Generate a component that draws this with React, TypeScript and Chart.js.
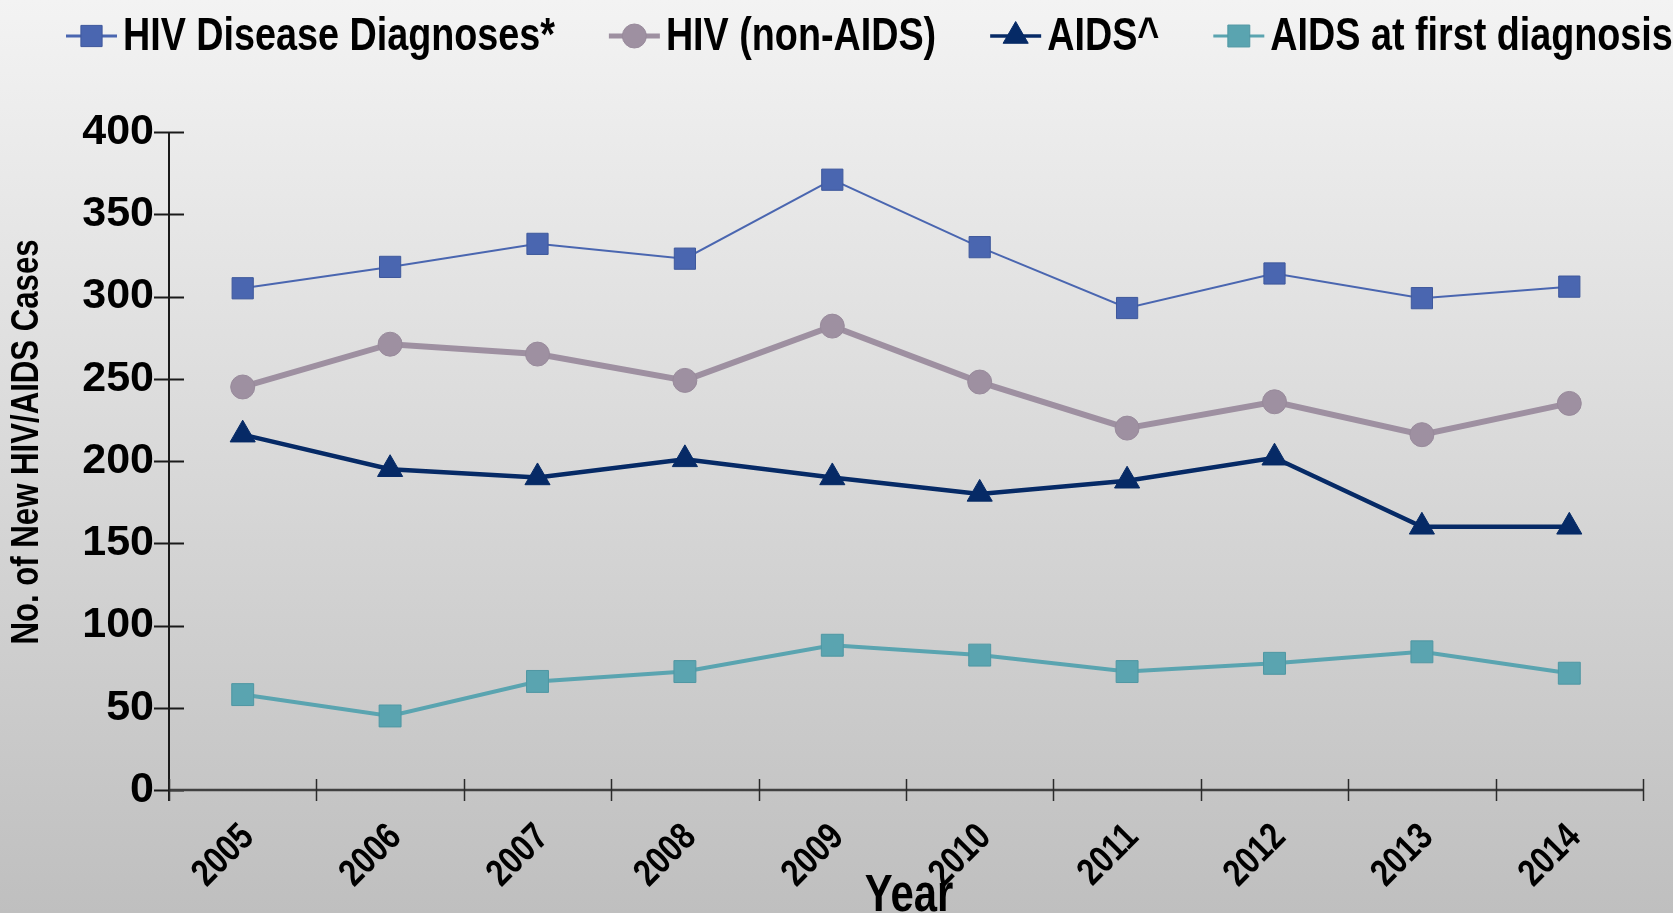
import { useEffect, useRef } from 'react';
import { Chart, registerables } from 'chart.js';
import { drawPoint } from 'chart.js/helpers';

Chart.register(...registerables);

const years = ['2005', '2006', '2007', '2008', '2009', '2010', '2011', '2012', '2013', '2014'];
const hivDisease = [305, 318, 332, 323, 371, 330, 293, 314, 299, 306];
const hivNonAids = [245, 271, 265, 249, 282, 248, 220, 236, 216, 235];
const aids = [216, 195, 190, 201, 190, 180, 188, 202, 160, 160];
const aidsFirst = [58, 45, 66, 72, 88, 82, 72, 77, 84, 71];
const seriesLabels = ['HIV Disease Diagnoses*', 'HIV (non-AIDS)', 'AIDS^', 'AIDS at first diagnosis'];
const xTitle = 'Year';
const yTitle = 'No. of New HIV/AIDS Cases';
const yMin = 0;
const yMax = 400;
const yStep = 50;

const FONT = '"Liberation Sans", Arial, sans-serif';
const NARROW_SCALE = 0.82;

// draws text horizontally condensed (Arial Narrow look) along its own direction
function narrowText(
  ctx: CanvasRenderingContext2D,
  text: string,
  x: number,
  y: number,
  angle: number,
  align: CanvasTextAlign,
  baseline: CanvasTextBaseline,
  font: string,
) {
  ctx.save();
  ctx.translate(x, y);
  ctx.rotate(angle);
  ctx.scale(NARROW_SCALE, 1);
  ctx.font = font;
  ctx.textAlign = align;
  ctx.textBaseline = baseline;
  ctx.fillStyle = '#000';
  ctx.fillText(text, 0, 0);
  ctx.restore();
}

const legendPlugin = {
  id: 'lineLegend',
  afterDraw(chart: any) {
    const ctx = chart.ctx as CanvasRenderingContext2D;
    const font = `bold 46px ${FONT}`;
    let x = 66;
    const y = 36;
    chart.data.datasets.forEach((ds: any) => {
      ctx.save();
      ctx.strokeStyle = ds.borderColor;
      ctx.lineWidth = Math.max(3, ds.borderWidth - 1);
      ctx.beginPath();
      ctx.moveTo(x, y);
      ctx.lineTo(x + 51, y);
      ctx.stroke();
      ctx.fillStyle = ds.pointBackgroundColor;
      ctx.strokeStyle = ds.pointBorderColor;
      ctx.lineWidth = 1;
      drawPoint(ctx, { pointStyle: ds.pointStyle, radius: ds.pointRadius, rotation: 0, borderWidth: 1 } as any, x + 25.5, y);
      ctx.restore();
      narrowText(ctx, ds.label, x + 57, y + 1, 0, 'left', 'middle', font);
      ctx.save();
      ctx.font = font;
      const w = ctx.measureText(ds.label).width * NARROW_SCALE;
      ctx.restore();
      x += 57 + w + 54;
    });
  },
};

const labelsPlugin = {
  id: 'narrowLabels',
  afterDraw(chart: any) {
    const ctx = chart.ctx as CanvasRenderingContext2D;
    const { chartArea } = chart;
    const xs = chart.scales.x;
    // rotated category labels
    xs.ticks.forEach((_t: any, i: number) => {
      const px = xs.getPixelForTick(i) - 8;
      narrowText(ctx, String(chart.data.labels[i]), px, chartArea.bottom + 28, -Math.PI / 4, 'right', 'top', `bold 38px ${FONT}`);
    });
    // x title
    narrowText(ctx, xTitle, (chartArea.left + chartArea.right) / 2 + 3, chart.height - 2, 0, 'center', 'alphabetic', `bold 51px ${FONT}`);
    // y title
    narrowText(ctx, yTitle, 28, (chartArea.top + chartArea.bottom) / 2 - 19, -Math.PI / 2, 'center', 'middle', `bold 38px ${FONT}`);
  },
};

const axesPlugin = {
  id: 'crossAxes',
  beforeDatasetsDraw(chart: any) {
    const { ctx, chartArea } = chart;
    const xs = chart.scales.x;
    const ys = chart.scales.y;
    ctx.save();
    ctx.strokeStyle = '#1a1a1a';
    ctx.lineWidth = 2;
    ctx.beginPath();
    ctx.moveTo(chartArea.left, ys.getPixelForValue(yMax));
    ctx.lineTo(chartArea.left, chartArea.bottom + 11);
    ctx.stroke();
    ys.ticks.forEach((t: any) => {
      const py = Math.round(ys.getPixelForValue(t.value)) + 0.5;
      ctx.beginPath();
      ctx.moveTo(chartArea.left - 15, py);
      ctx.lineTo(chartArea.left + 15, py);
      ctx.stroke();
    });
    ctx.strokeStyle = '#404040';
    ctx.lineWidth = 2.5;
    ctx.beginPath();
    ctx.moveTo(chartArea.left, chartArea.bottom);
    ctx.lineTo(chartArea.right, chartArea.bottom);
    ctx.stroke();
    const step = xs.getPixelForValue(1) - xs.getPixelForValue(0);
    ctx.strokeStyle = '#2a2a2a';
    ctx.lineWidth = 1.5;
    for (let i = 0; i <= years.length; i++) {
      const px = Math.round(xs.getPixelForValue(0) - step / 2 + i * step) + 0.5;
      ctx.beginPath();
      ctx.moveTo(px, chartArea.bottom - 11);
      ctx.lineTo(px, chartArea.bottom + 11);
      ctx.stroke();
    }
    ctx.restore();
  },
};

export default function App() {
  const ref = useRef<HTMLCanvasElement>(null);

  useEffect(() => {
    document.body.style.margin = '0';
    document.body.style.overflow = 'hidden';
    const chart = new Chart(ref.current as HTMLCanvasElement, {
      type: 'line',
      data: {
        labels: years,
        datasets: [
          {
            label: seriesLabels[0],
            data: hivDisease,
            borderColor: '#4a66b0',
            backgroundColor: '#4a66b0',
            pointBackgroundColor: '#4a66b0',
            pointBorderColor: '#3e589c',
            borderWidth: 2,
            pointStyle: 'rect',
            pointRadius: 15,
            pointBorderWidth: 1,
            tension: 0,
          },
          {
            label: seriesLabels[1],
            data: hivNonAids,
            borderColor: '#9e90a1',
            backgroundColor: '#9e90a1',
            pointBackgroundColor: '#9e90a1',
            pointBorderColor: '#988a9b',
            borderWidth: 6,
            pointStyle: 'circle',
            pointRadius: 12,
            pointBorderWidth: 1,
            tension: 0,
          },
          {
            label: seriesLabels[2],
            data: aids,
            borderColor: '#062a66',
            backgroundColor: '#062a66',
            pointBackgroundColor: '#062a66',
            pointBorderColor: '#062a66',
            borderWidth: 4.5,
            pointStyle: 'triangle',
            pointRadius: 14.5,
            pointBorderWidth: 1,
            tension: 0,
          },
          {
            label: seriesLabels[3],
            data: aidsFirst,
            borderColor: '#5aa4b0',
            backgroundColor: '#5aa4b0',
            pointBackgroundColor: '#5aa4b0',
            pointBorderColor: '#4f97a3',
            borderWidth: 4,
            pointStyle: 'rect',
            pointRadius: 15.5,
            pointBorderWidth: 1,
            tension: 0,
          },
        ],
      },
      options: {
        animation: false,
        responsive: false,
        devicePixelRatio: 1,
        layout: { padding: { top: 132, right: 30, left: 0, bottom: 0 } },
        plugins: {
          legend: { display: false },
          tooltip: { enabled: false },
        },
        scales: {
          x: {
            offset: true,
            grid: { display: false, drawTicks: false },
            border: { display: false },
            ticks: { display: false },
            title: { display: false, text: xTitle },
            afterFit: (s: any) => {
              s.height = 123;
            },
          },
          y: {
            min: yMin,
            max: yMax,
            grid: { display: false, drawTicks: false },
            border: { display: false },
            ticks: {
              stepSize: yStep,
              color: '#000',
              font: { family: FONT, size: 43, weight: 'bold' },
              padding: 15,
            },
            title: { display: false, text: yTitle },
            afterFit: (s: any) => {
              s.width = 169;
            },
          },
        },
      },
      plugins: [axesPlugin, labelsPlugin, legendPlugin],
    });
    return () => chart.destroy();
  }, []);

  return (
    <div
      style={{
        position: 'absolute',
        left: 0,
        top: 0,
        width: 1673,
        height: 913,
        overflow: 'hidden',
        background: 'linear-gradient(to bottom, #f3f3f3 0%, #bfbfbf 100%)',
      }}
    >
      <canvas ref={ref} width={1673} height={913} style={{ display: 'block', width: 1673, height: 913 }} />
    </div>
  );
}
